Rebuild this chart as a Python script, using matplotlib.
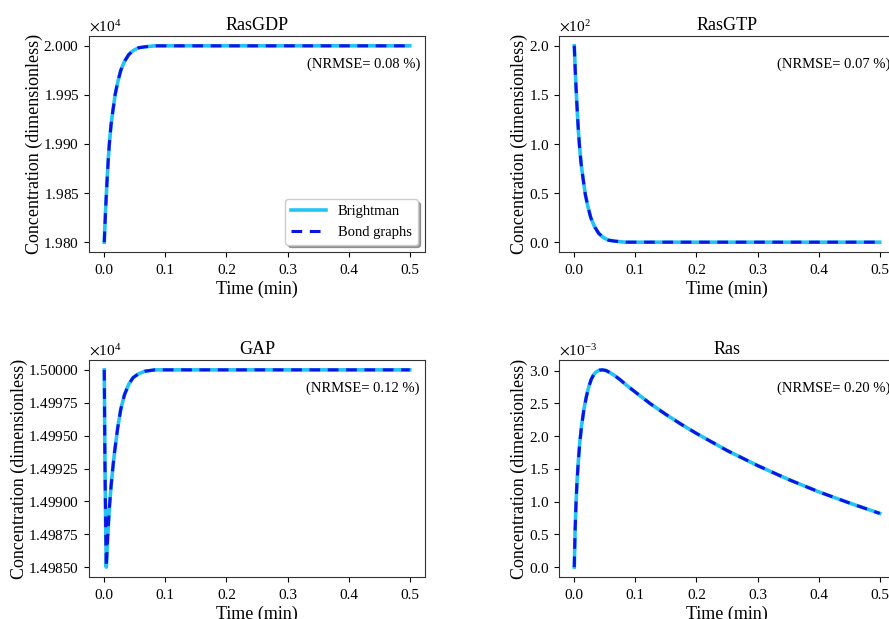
import matplotlib
matplotlib.use("Agg")
import matplotlib.pyplot as plt
from matplotlib.ticker import MultipleLocator, ScalarFormatter

plt.rcParams['font.family'] = ['Liberation Serif', 'DejaVu Serif']
plt.rcParams['mathtext.fontset'] = 'stix'

# ---- data ----
t_gdp = [0.0, 0.002, 0.0044, 0.0065, 0.0083, 0.011, 0.0139, 0.018, 0.022, 0.027, 0.033,
         0.04, 0.047, 0.056, 0.067, 0.083, 0.1, 0.2, 0.3, 0.4, 0.5]
rasgdp = [19800, 19831, 19861, 19884, 19900, 19919, 19933, 19951, 19963, 19975, 19984,
          19991, 19995, 19998, 19999, 20000, 20000, 20000, 20000, 20000, 20000]

t_gtp = t_gdp
rasgtp = [200, 169, 139, 116, 100, 81, 67, 49, 37, 25, 16, 9, 5, 2, 1, 0, 0, 0, 0, 0, 0]

t_gap = [0.0, 0.001, 0.0022, 0.0033, 0.0044, 0.0056, 0.008, 0.011, 0.0139, 0.0167, 0.022,
         0.027, 0.033, 0.04, 0.047, 0.056, 0.067, 0.083, 0.1, 0.2, 0.3, 0.4, 0.5]
gap = [15000.0, 14993.5, 14988.4, 14985.0, 14986.1, 14987.3, 14989.3, 14991.1, 14992.5,
       14993.7, 14995.6, 14997.0, 14998.1, 14998.9, 14999.4, 14999.7, 14999.9, 15000.0,
       15000.0, 15000.0, 15000.0, 15000.0, 15000.0]

t_ras = [0.0, 0.0012, 0.0027, 0.0045, 0.0065, 0.009, 0.012, 0.016, 0.020, 0.024, 0.028,
         0.032, 0.036, 0.041, 0.046, 0.052, 0.058, 0.065, 0.075, 0.085, 0.1, 0.125, 0.15,
         0.175, 0.2, 0.25, 0.3, 0.35, 0.4, 0.45, 0.5]
ras = [0.0, 0.50, 0.94, 1.30, 1.60, 1.90, 2.16, 2.42, 2.61, 2.76, 2.87,
       2.94, 2.98, 3.005, 3.01, 3.00, 2.97, 2.93, 2.86, 2.78, 2.67, 2.49, 2.33,
       2.18, 2.04, 1.78, 1.55, 1.34, 1.15, 0.98, 0.82]
ras = [v * 1e-3 for v in ras]

titles = ["RasGDP", "RasGTP", "GAP", "Ras"]
nrmse = ["0.08", "0.07", "0.12", "0.20"]
series = [(t_gdp, rasgdp), (t_gtp, rasgtp), (t_gap, gap), (t_ras, ras)]
ysteps = [50, 50, 2.5, 0.5e-3]
ydecimals = [3, 1, 5, 1]


class FixedSci(ScalarFormatter):
    def __init__(self, decimals):
        super().__init__(useOffset=False, useMathText=True)
        self.decimals = decimals
        self.set_powerlimits((0, 0))

    def _set_format(self):
        self.format = r'$\mathdefault{%%1.%df}$' % self.decimals


fig = plt.figure(figsize=(8.89, 6.19), dpi=100)
W, H = 889, 619
boxes = [(89, 36, 336, 216), (559, 36, 336, 216), (89, 360, 336, 217), (559, 360, 336, 217)]

for i, (bx, by, bw, bh) in enumerate(boxes):
    ax = fig.add_axes([bx / W, 1 - (by + bh) / H, bw / W, bh / H])
    t, y = series[i]
    ax.plot(t, y, color='#22c4f5', lw=2.6, label='Brightman')
    ax.plot(t, y, color='#0a14e6', lw=2.2, ls=(0, (3.5, 2.5)), label='Bond graphs')
    ax.set_title(titles[i], fontsize=13, pad=4)
    ax.set_xlabel('Time (min)', fontsize=13, labelpad=3)
    ax.set_ylabel('Concentration (dimensionless)', fontsize=13, labelpad=0.5)
    ax.xaxis.set_major_locator(MultipleLocator(0.1))
    ax.yaxis.set_major_locator(MultipleLocator(ysteps[i]))
    ax.yaxis.set_major_formatter(FixedSci(ydecimals[i]))
    ax.tick_params(labelsize=11)
    ax.tick_params(axis='x', pad=5)
    ax.yaxis.get_offset_text().set_fontsize(11)
    for s in ax.spines.values():
        s.set_color('#333333')
    ax.text(0.985, 0.87, '(NRMSE= %s %%)' % nrmse[i], transform=ax.transAxes,
            ha='right', va='center', fontsize=10.5)
    if i == 0:
        ax.legend(loc='lower right', fontsize=10.5, shadow=True, fancybox=True,
                  handlelength=2.4)

fig.savefig('out.png', dpi=100)
